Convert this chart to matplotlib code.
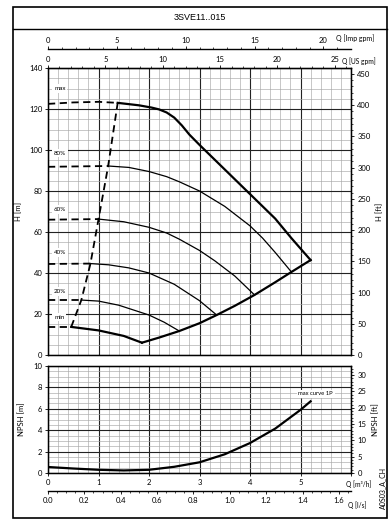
import matplotlib
matplotlib.use("Agg")
import matplotlib.pyplot as plt
from matplotlib.patches import Rectangle
from matplotlib.lines import Line2D
from matplotlib.ticker import MultipleLocator, FixedLocator, FormatStrFormatter

plt.rcParams['font.family'] = ['Lato', 'DejaVu Sans']

# ---- data (Q in m3/h, H in m) ----
max_dash_q = [0, 0.5, 1.0, 1.38]
max_dash_h = [122.5, 123.2, 123.5, 123.0]
max_q = [1.38, 1.8, 2.05, 2.2, 2.35, 2.5, 2.65, 2.8, 3.0, 3.5, 4.0, 4.5, 4.82, 5.2]
max_h = [123.0, 121.8, 120.7, 119.8, 118.3, 115.8, 112.0, 107.5, 102.5, 90.5, 78.5, 66.5, 57.0, 46.3]

p80_dash_q = [0, 1.19]
p80_dash_h = [91.8, 92.2]
p80_q = [1.19, 1.6, 2.0, 2.35, 2.6, 3.0, 3.5, 4.0, 4.25, 4.5, 4.82]
p80_h = [92.2, 91.5, 89.5, 87.0, 84.5, 80.0, 72.5, 63.0, 57.0, 50.0, 40.5]

p60_dash_q = [0, 1.0]
p60_dash_h = [66.0, 66.3]
p60_q = [1.0, 1.5, 2.0, 2.35, 2.6, 3.0, 3.3, 3.7, 4.09]
p60_h = [66.3, 65.0, 62.3, 59.5, 56.5, 51.0, 46.0, 38.5, 29.3]

p40_dash_q = [0, 0.84]
p40_dash_h = [44.4, 44.6]
p40_q = [0.84, 1.2, 1.6, 2.0, 2.5, 3.0, 3.34]
p40_h = [44.6, 44.0, 42.5, 40.0, 34.5, 26.5, 19.5]

p20_dash_q = [0, 0.66]
p20_dash_h = [26.8, 26.8]
p20_q = [0.66, 1.0, 1.4, 2.0, 2.3, 2.6]
p20_h = [26.8, 26.3, 24.3, 19.5, 16.0, 11.7]

min_dash_q = [0, 0.46]
min_dash_h = [13.7, 13.7]
min_q = [0.46, 1.0, 1.5, 1.86]
min_h = [13.7, 12.0, 9.3, 6.0]

sys_q = [1.86, 2.2, 2.6, 3.0, 3.34, 3.7, 4.09, 4.5, 4.82, 5.2]
sys_h = [6.0, 8.5, 11.7, 15.5, 19.5, 24.0, 29.3, 35.5, 40.5, 46.3]

bep_q = [0.46, 0.66, 0.84, 1.0, 1.19, 1.38]
bep_h = [13.7, 26.8, 44.5, 66.2, 92.0, 123.0]

speed_labels = ["max", "80%", "60%", "40%", "20%", "min"]
speed_label_h = [130, 98.5, 71, 50, 31, 18.5]

npsh_q = [0, 0.5, 1.0, 1.5, 2.0, 2.5, 3.0, 3.5, 4.0, 4.5, 5.0, 5.2]
npsh_m = [0.56, 0.42, 0.3, 0.24, 0.3, 0.58, 1.0, 1.75, 2.8, 4.15, 5.9, 6.7]

us_ticks = [0, 5, 10, 15, 20, 25]
imp_ticks = [0, 5, 10, 15, 20]
lps_ticks = [0.0, 0.2, 0.4, 0.6, 0.8, 1.0, 1.2, 1.4, 1.6]

M_TO_FT = 3.28084
USGPM = 0.227125
IMPGPM = 0.272765
LPS = 3.6

W, H = 391, 522
fig = plt.figure(figsize=(W / 100, H / 100), dpi=100)

def fx(px):
    return px / W

def fy(py):
    return 1 - py / H

tick_fs = 5.5
grid_minor = dict(color='#a8a8a8', lw=0.45)
grid_major = dict(color='#222222', lw=0.8)

# ---- main H axes ----
ax = fig.add_axes([fx(48), fy(355), fx(351) - fx(48), fy(68) - fy(355)])
ax.set_xlim(0, 6)
ax.set_ylim(0, 140)
ax.xaxis.set_major_locator(MultipleLocator(1))
ax.xaxis.set_minor_locator(MultipleLocator(0.2))
ax.yaxis.set_major_locator(MultipleLocator(20))
ax.yaxis.set_minor_locator(MultipleLocator(5))
ax.grid(which='minor', **grid_minor)
ax.grid(which='major', **grid_major)
ax.tick_params(axis='x', which='both', bottom=False, labelbottom=False, top=False)
ax.tick_params(axis='y', which='major', labelsize=tick_fs, length=2, width=0.6, pad=2)
ax.tick_params(axis='y', which='minor', length=0)
for s in ax.spines.values():
    s.set_linewidth(1.0)

dash = dict(color='black', lw=1.3, ls=(0, (4, 2.5)))
thin = dict(color='black', lw=0.9)
thick = dict(color='black', lw=1.6)

for dq, dh in [(max_dash_q, max_dash_h), (p80_dash_q, p80_dash_h), (p60_dash_q, p60_dash_h),
               (p40_dash_q, p40_dash_h), (p20_dash_q, p20_dash_h), (min_dash_q, min_dash_h)]:
    ax.plot(dq, dh, **dash)
ax.plot(bep_q, bep_h, **dash)
ax.plot(max_q, max_h, **thick)
ax.plot(p80_q, p80_h, **thin)
ax.plot(p60_q, p60_h, **thin)
ax.plot(p40_q, p40_h, **thin)
ax.plot(p20_q, p20_h, **thin)
ax.plot(min_q, min_h, **thick)
ax.plot(sys_q, sys_h, **thick)

for lab, hh in zip(speed_labels, speed_label_h):
    ax.text(0.12, hh, lab, fontsize=4.5, va='center', ha='left',
            bbox=dict(facecolor='white', edgecolor='none', pad=1.2))

ax.set_ylabel("H [m]", fontsize=5.5, labelpad=5)

axr = ax.twinx()
axr.set_ylim(0, 140 * M_TO_FT)
axr.yaxis.set_major_locator(MultipleLocator(50))
axr.yaxis.set_minor_locator(MultipleLocator(10))
axr.tick_params(axis='y', which='major', labelsize=tick_fs, length=2.5, width=0.6, pad=2)
axr.tick_params(axis='y', which='minor', length=1.5, width=0.5)
axr.set_ylabel("H [ft]", fontsize=5.5, labelpad=4)

# US gpm axis on top of main axes
us = ax.secondary_xaxis('top', functions=(lambda q: q / USGPM, lambda g: g * USGPM))
us.xaxis.set_major_locator(FixedLocator(us_ticks))
us.xaxis.set_minor_locator(FixedLocator(list(range(0, 27))))
us.tick_params(which='major', labelsize=tick_fs, length=2, width=0.6, pad=1.5)
us.tick_params(which='minor', length=1.5, width=0.5)

# Imp gpm floating axis
imp = ax.secondary_xaxis((355 - 49) / 287, functions=(lambda q: q / IMPGPM, lambda g: g * IMPGPM))
imp.xaxis.set_major_locator(FixedLocator(imp_ticks))
imp.xaxis.set_minor_locator(FixedLocator(list(range(0, 22))))
imp.tick_params(which='major', labelsize=tick_fs, length=2, width=0.6, pad=1.5)
imp.tick_params(which='minor', length=1.5, width=0.5)
imp.spines['top'].set_linewidth(1.0)

# ---- NPSH axes ----
an = fig.add_axes([fx(48), fy(473), fx(351) - fx(48), fy(366) - fy(473)])
an.set_xlim(0, 6)
an.set_ylim(0, 10)
an.xaxis.set_minor_locator(MultipleLocator(0.2))
an.yaxis.set_major_locator(MultipleLocator(2))
an.yaxis.set_minor_locator(MultipleLocator(0.5))
an.set_xticks([0, 1, 2, 3, 4, 5, 6])
an.set_xticklabels(["0", "1", "2", "3", "4", "5", ""])
an.grid(which='minor', **grid_minor)
an.grid(which='major', **grid_major)
an.tick_params(axis='x', which='major', labelsize=tick_fs, length=2, width=0.6, pad=2)
an.tick_params(axis='x', which='minor', length=0)
an.tick_params(axis='y', which='major', labelsize=tick_fs, length=2, width=0.6, pad=2)
an.tick_params(axis='y', which='minor', length=0)
for s in an.spines.values():
    s.set_linewidth(1.0)
an.plot(npsh_q, npsh_m, **thick)
an.text(5.3, 7.4, "max curve 1P", fontsize=4.2, ha='center', va='center',
        bbox=dict(facecolor='white', edgecolor='none', pad=1.2))
an.set_ylabel("NPSH [m]", fontsize=5.5, labelpad=6)

anr = an.twinx()
anr.set_ylim(0, 10 * M_TO_FT)
anr.yaxis.set_major_locator(MultipleLocator(5))
anr.yaxis.set_minor_locator(MultipleLocator(1))
anr.tick_params(axis='y', which='major', labelsize=tick_fs, length=2.5, width=0.6, pad=2)
anr.tick_params(axis='y', which='minor', length=1.5, width=0.5)
anr.set_ylabel("NPSH [ft]", fontsize=5.5, labelpad=4)

ls = an.secondary_xaxis(-(491 - 473) / 107, functions=(lambda q: q / LPS, lambda l: l * LPS))
ls.xaxis.set_major_locator(FixedLocator(lps_ticks))
ls.xaxis.set_major_formatter(FormatStrFormatter('%.1f'))
ls.xaxis.set_minor_locator(FixedLocator([i * 0.05 for i in range(0, 34)]))
ls.tick_params(which='major', labelsize=tick_fs, length=2, width=0.6, pad=2)
ls.tick_params(which='minor', length=1.5, width=0.5)
ls.spines['bottom'].set_linewidth(1.0)

# ---- axis unit texts ----
fig.text(fx(336), fy(38), "Q [Imp gpm]", fontsize=5, va='center', ha='left')
fig.text(fx(342), fy(61), "Q [US gpm]", fontsize=4.8, va='center', ha='left')
fig.text(fx(346), fy(484), "Q [m\u00b3/h]", fontsize=4.8, va='center', ha='left')
fig.text(fx(348), fy(505), "Q [l/s]", fontsize=4.8, va='center', ha='left')
fig.text(fx(383), fy(488), "A0S03_A_CH", fontsize=5, va='center', ha='center', rotation=90)

# ---- frame and title ----
fig.add_artist(Rectangle((fx(13), fy(518)), fx(387) - fx(13), fy(7) - fy(518),
                         transform=fig.transFigure, fill=False, lw=1.2, ec='black'))
fig.add_artist(Line2D([fx(13), fx(387)], [fy(29), fy(29)], transform=fig.transFigure,
                      lw=1.0, color='black'))
fig.text(fx(200), fy(18), "3SVE11..015", fontsize=6.5, ha='center', va='center',
         family=['Liberation Sans', 'DejaVu Sans'])

fig.savefig("out.png", dpi=100)
